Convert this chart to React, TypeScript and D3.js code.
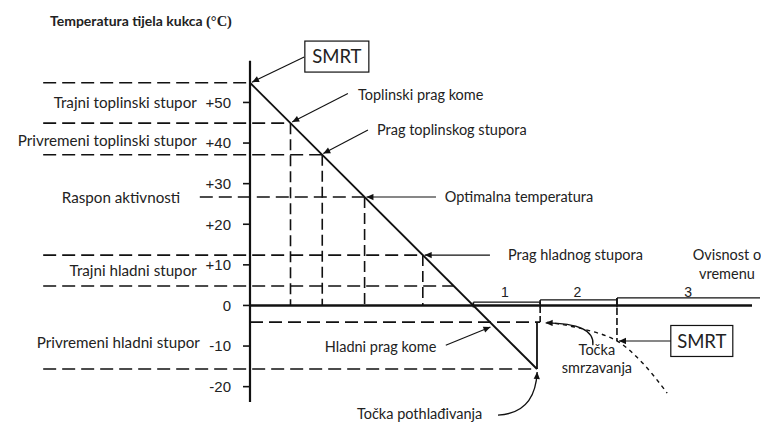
import React from "react";
import * as d3 from "d3";

// temperature axis
const yTicks = [50, 40, 30, 20, 10, 0, -10, -20];
const yTickLabels = ["+50", "+40", "+30", "+20", "+10", "0", "-10", "-20"];

// key temperatures (°C)
const deathHot = 54.85;
const heatComa = 44.9;
const heatStupor = 37.1;
const optimum = 26.7;
const coldStupor = 12.4;
const coldStuporLow = 4.8;
const coldComa = -4.1;
const supercooling = -15.65;

// cooling line: [time, temperature]
const coolingLine: [number, number][] = [[0, deathHot], [57.17, supercooling]];

// zone names on the left
const zoneNames = ["Trajni toplinski stupor", "Privremeni toplinski stupor", "Raspon aktivnosti", "Trajni hladni stupor", "Privremeni hladni stupor"];
const zoneTemps = [50, 40.7, 26.5, 8.7, -9.1];
const zoneEnds = [-10.6, -10.6, -13.9, -10.6, -10];

// horizontal dashed lines: temperature, start time, end time (null = up to cooling line)
const hLineTemps = [deathHot, heatComa, heatStupor, optimum, coldStupor, coldStuporLow, coldComa, supercooling];
const hLineFrom = [-41.2, -41.2, -41.2, -10, -41.2, -41.2, 0, -41.2];
const hLineTo: (number | null)[] = [0, null, null, null, null, null, 57.8, 57.17];

// thresholds that drop a dashed line to 0 °C
const dropTemps = [heatComa, heatStupor, optimum, coldStupor];

// time-dependence segments above the 0 line
const segLabels = ["1", "2", "3"];
const segFrom = [44.5, 57.8, 73.1];
const segTo = [57.8, 73.1, 101.6];
const segTemps = [0.8, 1.37, 1.86];
const segLabelT = [50.8, 65.2, 87.3];
const segLabelTemp = 3.2;

// freezing curve (dotted)
const freezeCurve: [number, number][] = [[59.2, -4.1], [65.7, -5.6], [72.9, -8.6], [78.3, -14.3], [83.1, -21.6]];
const freezeDeath: [number, number] = [73.1, -8.75];

// text annotations: [time, temperature]
const noteTexts = ["Toplinski prag kome", "Prag toplinskog stupora", "Optimalna temperatura", "Prag hladnog stupora", "Hladni prag kome", "Točka pothlađivanja"];
const notePos: [number, number][] = [[21.5, 51.9], [25.3, 43.2], [38.8, 26.7], [51.4, 12.4], [14.9, -10.2], [21.3, -26.6]];

// straight arrows: from -> to
const arrowFrom: [number, number][] = [[10.8, 61.2], [19.5, 52.2], [23.5, 43.2], [37.05, 26.7], [47.8, 12.4], [39.0, -9.8], [83.9, -8.75]];
const arrowTo: [number, number][] = [[0.4, 55.0], [8.4, 45.2], [14.6, 37.4], [23.2, 26.7], [34.8, 12.4], [47.9, -5.3], [73.5, -8.75]];

// curved arrows: start, control, end
const curveArrows: [number, number][][] = [
  [[49.4, -27.0], [56.8, -26.6], [57.2, -16.4]],
  [[68.3, -9.8], [68.8, -4.4], [58.9, -4.3]],
];

// death boxes
const deathBoxes: [number, number][] = [[17.3, 61.3], [90.0, -8.75]];

const x = d3.scaleLinear().domain([0, 100]).range([250, 752]);
const y = d3.scaleLinear().domain([-20, 50]).range([386.65, 102.45]);
const tAt = d3.scaleLinear().domain([deathHot, supercooling]).range([0, 57.17]);

const ink = "#111";
const txt = "#222";
const sans = "Lato, 'Open Sans', sans-serif";
const dash = "13,6";

export default function App() {
  const lineGen = d3.line<[number, number]>().x((d) => x(d[0])).y((d) => y(d[1]));
  const freezeGen = d3.line<[number, number]>().x((d) => x(d[0])).y((d) => y(d[1])).curve(d3.curveCatmullRom);

  const curvePath = (c: [number, number][]) => {
    const p = d3.path();
    p.moveTo(x(c[0][0]), y(c[0][1]));
    p.quadraticCurveTo(x(c[1][0]), y(c[1][1]), x(c[2][0]), y(c[2][1]));
    return p.toString();
  };

  return (
    <svg width={761} height={423} style={{ position: "absolute", left: 0, top: 0, background: "#fff" }} fontFamily={sans}>
      <defs>
        <marker id="ah" viewBox="0 0 10 10" refX="10" refY="5" markerWidth="8" markerHeight="7" markerUnits="userSpaceOnUse" orient="auto">
          <path d="M0,0.5 L10,5 L0,9.5 z" fill={ink} />
        </marker>
      </defs>

      <text x={50} y={26} fontSize={14} fontWeight="bold" fill={txt}>
        Temperatura tijela kukca <tspan fontFamily="'Liberation Serif', serif" fontSize={14.5}>(°C)</tspan>
      </text>

      {/* dashed threshold lines */}
      {hLineTemps.map((t, i) => (
        <line key={"h" + i} x1={x(hLineFrom[i])} x2={x(hLineTo[i] ?? tAt(t))} y1={y(t)} y2={y(t)}
          stroke={ink} strokeWidth={1.6} strokeDasharray={dash} />
      ))}
      {dropTemps.map((t, i) => (
        <line key={"v" + i} x1={x(tAt(t))} x2={x(tAt(t))} y1={y(t)} y2={y(0)}
          stroke={ink} strokeWidth={1.6} strokeDasharray="11,5" />
      ))}
      <line x1={x(segFrom[1])} x2={x(segFrom[1])} y1={y(coldComa)} y2={y(segTemps[0])} stroke={ink} strokeWidth={1.6} strokeDasharray="6,3" />
      <line x1={x(freezeDeath[0])} x2={x(freezeDeath[0])} y1={y(segTemps[2])} y2={y(freezeDeath[1])} stroke={ink} strokeWidth={1.6} strokeDasharray="7,3" />
      <line x1={x(coolingLine[1][0])} x2={x(coolingLine[1][0])} y1={y(supercooling)} y2={y(coldComa)} stroke={ink} strokeWidth={1.8} />

      {/* axes */}
      <line x1={x(0)} x2={x(0)} y1={y(60.3)} y2={y(-23.8)} stroke={ink} strokeWidth={2.2} />
      <line x1={x(0)} x2={x(100)} y1={y(0)} y2={y(0)} stroke={ink} strokeWidth={2.6} />
      {yTicks.map((t, i) => (
        <g key={"t" + i}>
          <line x1={x(0) - 7} x2={x(0)} y1={y(t)} y2={y(t)} stroke={ink} strokeWidth={1.6} />
          <text x={x(0) - 19} y={y(t)} dy="0.36em" textAnchor="end" fontSize={15} fontFamily="'Liberation Sans', Arial, sans-serif" fill={txt}>
            {yTickLabels[i]}
          </text>
        </g>
      ))}

      {/* cooling line */}
      <path d={lineGen(coolingLine) ?? ""} stroke={ink} strokeWidth={1.9} fill="none" />

      {/* time dependence segments */}
      {segLabels.map((s, i) => (
        <g key={"s" + i}>
          <line x1={x(segFrom[i])} x2={x(segTo[i])} y1={y(segTemps[i])} y2={y(segTemps[i])} stroke={ink} strokeWidth={1.3} />
          <line x1={x(segFrom[i])} x2={x(segFrom[i])} y1={y(segTemps[i])} y2={y(0) + 2} stroke={ink} strokeWidth={1.6} />
          <text x={x(segLabelT[i])} y={y(segLabelTemp)} dy="0.36em" textAnchor="middle" fontSize={14} fontFamily="'Liberation Sans', Arial, sans-serif" fill={txt}>{s}</text>
        </g>
      ))}

      {/* freezing curve */}
      <path d={freezeGen(freezeCurve) ?? ""} stroke={ink} strokeWidth={1.4} strokeDasharray="4,4" fill="none" />

      {/* zone names */}
      {zoneNames.map((n, i) => (
        <text key={"z" + i} x={x(zoneEnds[i])} y={y(zoneTemps[i])} dy="0.36em" textAnchor="end" fontSize={15.2} fill={txt}>{n}</text>
      ))}

      {/* annotations */}
      {noteTexts.map((n, i) => (
        <text key={"n" + i} x={x(notePos[i][0])} y={y(notePos[i][1])} dy="0.36em" fontSize={14.5} fill={txt}>{n}</text>
      ))}
      <text x={x(95)} y={y(12.4)} dy="0.36em" textAnchor="middle" fontSize={14.5} fill={txt}>Ovisnost o</text>
      <text x={x(95)} y={y(7.7)} dy="0.36em" textAnchor="middle" fontSize={14.5} fill={txt}>vremenu</text>
      <text x={x(69.1)} y={y(-11.0)} dy="0.36em" textAnchor="middle" fontSize={14.5} fill={txt}>Točka</text>
      <text x={x(69.1)} y={y(-15.4)} dy="0.36em" textAnchor="middle" fontSize={14.5} fill={txt}>smrzavanja</text>

      {arrowFrom.map((f, i) => (
        <line key={"a" + i} x1={x(f[0])} y1={y(f[1])} x2={x(arrowTo[i][0])} y2={y(arrowTo[i][1])}
          stroke={ink} strokeWidth={1.1} markerEnd="url(#ah)" />
      ))}
      {curveArrows.map((c, i) => (
        <path key={"c" + i} d={curvePath(c)} stroke={ink} strokeWidth={1.3} fill="none" markerEnd="url(#ah)" />
      ))}

      {/* SMRT boxes */}
      {deathBoxes.map((b, i) => (
        <g key={"b" + i} transform={`translate(${x(b[0])},${y(b[1])})`}>
          <rect x={i === 0 ? -32 : -31} y={-15.5} width={i === 0 ? 64 : 62} height={31} fill="#fff" stroke={ink} strokeWidth={1.2} />
          <text textAnchor="middle" dy="0.36em" fontSize={18.5} fill={txt}>SMRT</text>
        </g>
      ))}
    </svg>
  );
}
